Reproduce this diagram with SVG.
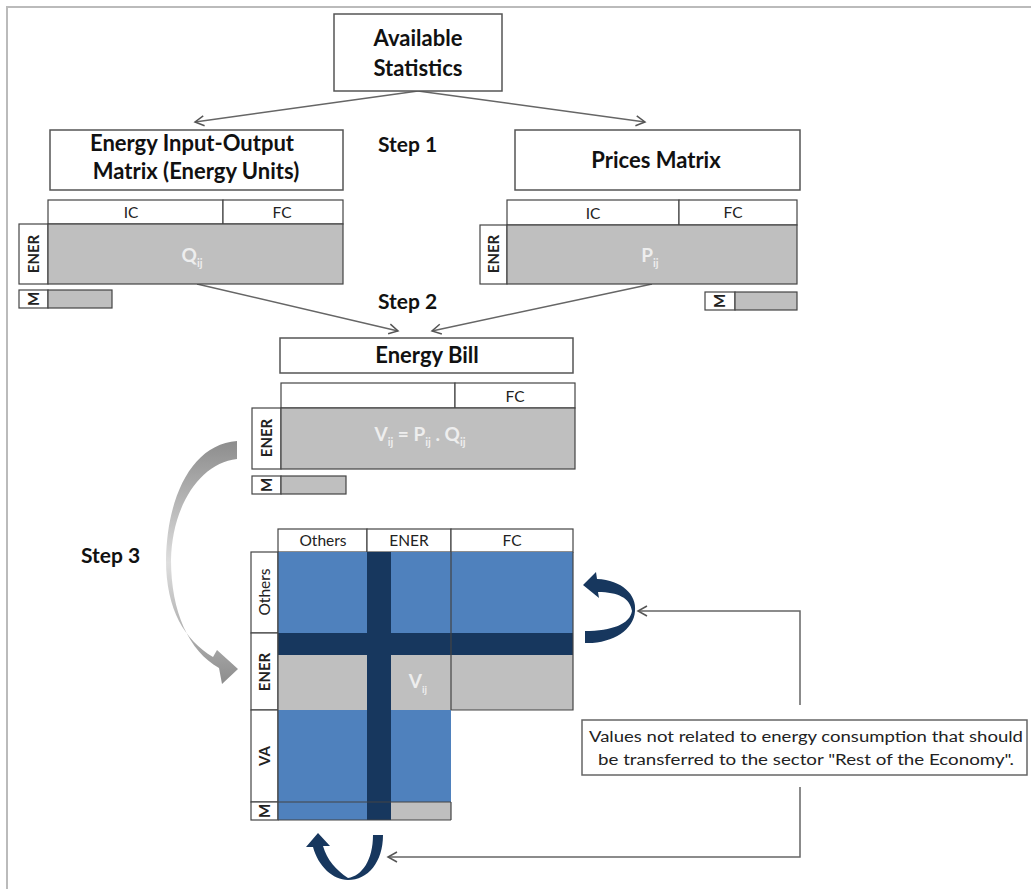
<svg xmlns="http://www.w3.org/2000/svg" width="1031" height="889" viewBox="0 0 1031 889">
<defs>
<style>
.box{fill:#fff;stroke:#555;stroke-width:1.5}
.hdr{fill:#fff;stroke:#444;stroke-width:1.2}
.grey{fill:#bfbfbf;stroke:#444;stroke-width:1.2}
.title{font-family:Lato,"Liberation Sans",sans-serif;font-weight:bold;font-size:22px;fill:#111;text-anchor:middle}
.step{font-family:Lato,"Liberation Sans",sans-serif;font-weight:bold;font-size:21px;fill:#111}
.lbl{font-family:Lato,"Liberation Sans",sans-serif;font-size:15.5px;fill:#222;text-anchor:middle}
.rlbl{font-family:Lato,"Liberation Sans",sans-serif;font-weight:bold;font-size:15px;fill:#222;text-anchor:middle}
.big{font-family:Lato,"Liberation Sans",sans-serif;font-weight:bold;font-size:19px;fill:#eeeeee;text-anchor:middle}
.note{font-family:Lato,"Liberation Sans",sans-serif;font-size:15.5px;fill:#222;text-anchor:middle}
.conn{fill:none;stroke:#666;stroke-width:1.5}
.blue{fill:#4f81bd}
.navy{fill:#17375e}
</style>
<marker id="ah" markerWidth="12" markerHeight="12" refX="10" refY="6" orient="auto" markerUnits="userSpaceOnUse">
<path d="M1,1 L10,6 L1,11" fill="none" stroke="#555" stroke-width="1.5"/>
</marker>
<linearGradient id="g3" x1="0" y1="440" x2="0" y2="685" gradientUnits="userSpaceOnUse">
<stop offset="0" stop-color="#8c8c8c"/>
<stop offset="0.5" stop-color="#dedede"/>
<stop offset="1" stop-color="#8c8c8c"/>
</linearGradient>
</defs>
<rect width="1031" height="889" fill="#fff"/>
<path d="M7 889 V7 H1031" fill="none" stroke="#bbb" stroke-width="2"/>

<g id="connectors">
<line class="conn" x1="418" y1="91" x2="195" y2="122" marker-end="url(#ah)"/>
<line class="conn" x1="418" y1="91" x2="645" y2="122" marker-end="url(#ah)"/>
<line class="conn" x1="197" y1="284" x2="398" y2="331" marker-end="url(#ah)"/>
<line class="conn" x1="652" y1="284" x2="432" y2="331" marker-end="url(#ah)"/>
<polyline class="conn" points="800,705 800,611 638,611" marker-end="url(#ah)"/>
<polyline class="conn" points="800,787 800,857 388,857" marker-end="url(#ah)"/>
<path id="step3arrow" d="M237 441 C193 444 167 495 166 560 C166 610 185 640 213 657 L217 650 L238 669 L222 684 L219 668 C189 651 171 612 171 560 C172 506 200 463 237 459 Z" fill="url(#g3)"/>
<path id="rightCurl" class="navy" d="M585 631 C612 631 630 624 632 611 C630 598 618 592 598 592 L599 598 L583 585 L596 572 L597 579 C622 580 637 595 635 611 C634 630 612 644 585 643 Z"/>
<path id="bottomCurl" class="navy" d="M373 835 C373 860 362 876 348 878 C336 870 327 860 323 846 L330 846 L318 833 L306 847 L313 847 C318 866 333 880 348 880 C368 880 383 862 383 835 Z"/>
</g>

<g id="available-statistics">
<rect class="box" x="334" y="14" width="168" height="77"/>
<text class="title" x="418" y="46">Available</text>
<text class="title" x="418" y="76">Statistics</text>
</g>

<g id="step-labels">
<text class="step" x="378" y="152">Step 1</text>
<text class="step" x="378" y="309">Step 2</text>
<text class="step" x="81" y="563">Step 3</text>
</g>

<g id="energy-io-matrix">
<rect class="box" x="50" y="130" width="293" height="60"/>
<text class="title" x="192" y="151">Energy Input-Output</text>
<text class="title" x="196" y="179">Matrix (Energy Units)</text>
<rect class="hdr" x="48" y="200" width="175" height="24"/>
<rect class="hdr" x="223" y="200" width="120" height="24"/>
<text class="lbl" x="131" y="218">IC</text>
<text class="lbl" x="282" y="218">FC</text>
<rect class="hdr" x="19" y="224" width="29" height="60"/>
<text class="rlbl" transform="translate(39 254) rotate(-90)">ENER</text>
<rect class="grey" x="48" y="224" width="295" height="60"/>
<text class="big" x="192" y="262">Q<tspan font-size="11" dy="5">ij</tspan></text>
<rect class="hdr" x="19" y="290" width="29" height="18"/>
<text class="rlbl" transform="translate(39 299) rotate(-90)">M</text>
<rect class="grey" x="48" y="290" width="64" height="18"/>
</g>

<g id="prices-matrix">
<rect class="box" x="515" y="130" width="285" height="60"/>
<text class="title" x="656" y="168">Prices Matrix</text>
<rect class="hdr" x="507" y="200" width="172" height="25"/>
<rect class="hdr" x="679" y="200" width="118" height="25"/>
<text class="lbl" x="593" y="219">IC</text>
<text class="lbl" x="733" y="218">FC</text>
<rect class="hdr" x="480" y="225" width="27" height="59"/>
<text class="rlbl" transform="translate(499 254) rotate(-90)">ENER</text>
<rect class="grey" x="507" y="225" width="290" height="59"/>
<text class="big" x="650" y="262">P<tspan font-size="11" dy="5">ij</tspan></text>
<rect class="hdr" x="705" y="292" width="30" height="18"/>
<text class="rlbl" transform="translate(725 301) rotate(-90)">M</text>
<rect class="grey" x="735" y="292" width="62" height="18"/>
</g>

<g id="energy-bill">
<rect class="box" x="280" y="338" width="293" height="35"/>
<text class="title" x="427" y="363">Energy Bill</text>
<rect class="hdr" x="281" y="383" width="174" height="25"/>
<rect class="hdr" x="455" y="383" width="120" height="25"/>
<text class="lbl" x="515" y="402">FC</text>
<rect class="hdr" x="252" y="408" width="29" height="61"/>
<text class="rlbl" transform="translate(272 438) rotate(-90)">ENER</text>
<rect class="grey" x="281" y="408" width="294" height="61"/>
<text class="big" x="420" y="441">V<tspan font-size="11" dy="5">ij</tspan><tspan dy="-5"> = P</tspan><tspan font-size="11" dy="5">ij</tspan><tspan dy="-5"> . Q</tspan><tspan font-size="11" dy="5">ij</tspan></text>
<rect class="hdr" x="252" y="476" width="29" height="18"/>
<text class="rlbl" transform="translate(272 485) rotate(-90)">M</text>
<rect class="grey" x="281" y="476" width="65" height="18"/>
</g>

<g id="extended-matrix">
<rect class="hdr" x="278" y="529" width="89" height="23"/>
<rect class="hdr" x="367" y="529" width="84" height="23"/>
<rect class="hdr" x="451" y="529" width="122" height="23"/>
<text class="lbl" x="323" y="546">Others</text>
<text class="lbl" x="409" y="546">ENER</text>
<text class="lbl" x="512" y="546">FC</text>
<rect class="hdr" x="251" y="552" width="27" height="81"/>
<text class="lbl" transform="translate(270 592) rotate(-90)">Others</text>
<rect class="hdr" x="251" y="633" width="27" height="77"/>
<text class="rlbl" transform="translate(270 672) rotate(-90)">ENER</text>
<rect class="hdr" x="251" y="710" width="27" height="92"/>
<text class="rlbl" transform="translate(270 756) rotate(-90)">VA</text>
<rect class="hdr" x="251" y="802" width="27" height="18"/>
<text class="rlbl" transform="translate(270 811) rotate(-90)">M</text>
<rect class="blue" x="278" y="552" width="295" height="81"/>
<rect x="278" y="655" width="295" height="55" fill="#bfbfbf"/>
<rect class="blue" x="278" y="710" width="173" height="92"/>
<rect class="blue" x="278" y="802" width="89" height="18"/>
<rect x="391" y="802" width="60" height="18" fill="#bfbfbf"/>
<rect class="navy" x="278" y="633" width="295" height="22"/>
<rect class="navy" x="367" y="552" width="24" height="268"/>
<path d="M451 552 V710 M278 802 H451 M451 802 V820 M278 820 H451 M573 552 V710 H451 M278 552 V820" fill="none" stroke="#444" stroke-width="1.2"/>
<text class="big" x="418" y="688" font-size="17">V<tspan font-size="10" dy="5">ij</tspan></text>
</g>

<g id="note">
<rect x="582" y="720" width="445" height="55" fill="#fff" stroke="#666" stroke-width="1.5"/>
<text class="note" x="806" y="742" textLength="434" lengthAdjust="spacingAndGlyphs">Values not related to energy consumption that should</text>
<text class="note" x="806" y="765" textLength="416" lengthAdjust="spacingAndGlyphs">be transferred to the sector "Rest of the Economy".</text>
</g>
</svg>
